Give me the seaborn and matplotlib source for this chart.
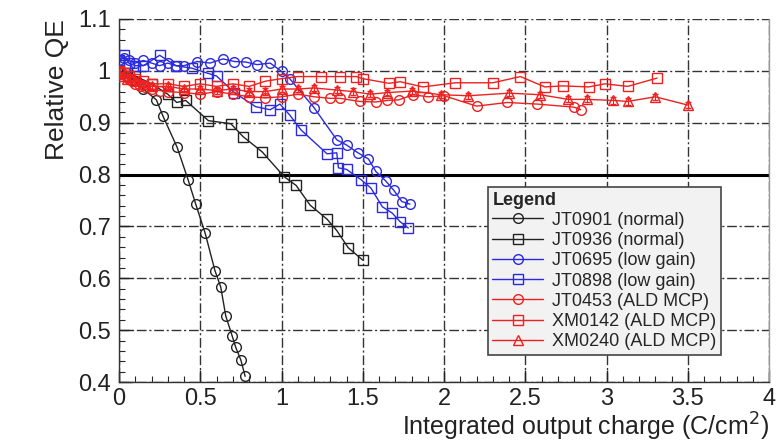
import pandas as pd
import matplotlib
matplotlib.use("Agg")
import matplotlib.pyplot as plt
import seaborn as sns
from matplotlib.ticker import MultipleLocator, FormatStrFormatter

# --- data ---
jt0901_x = [0, 0.05, 0.1, 0.15, 0.23, 0.27, 0.357, 0.425, 0.472, 0.53, 0.59, 0.626, 0.657, 0.696, 0.718, 0.75, 0.776]
jt0901_y = [1.0, 0.99, 0.98, 0.965, 0.944, 0.913, 0.853, 0.79, 0.743, 0.687, 0.615, 0.583, 0.527, 0.489, 0.467, 0.442, 0.411]

jt0936_x = [0, 0.05, 0.1, 0.2, 0.3, 0.355, 0.41, 0.55, 0.688, 0.764, 0.88, 1.016, 1.09, 1.176, 1.28, 1.34, 1.41, 1.50]
jt0936_y = [1.0, 0.995, 0.99, 0.975, 0.955, 0.939, 0.943, 0.904, 0.898, 0.873, 0.844, 0.796, 0.779, 0.741, 0.714, 0.692, 0.659, 0.635]

jt0695_x = [0, 0.03, 0.06, 0.1, 0.15, 0.2, 0.25, 0.3, 0.35, 0.4, 0.48, 0.56, 0.64, 0.71, 0.78, 0.85, 0.93,
            1.0, 1.05, 1.2, 1.34, 1.40, 1.47, 1.535, 1.58, 1.64, 1.69, 1.74, 1.79]
jt0695_y = [1.02, 1.025, 1.02, 1.015, 1.02, 1.015, 1.01, 1.015, 1.01, 1.01, 1.018, 1.015, 1.023, 1.018, 1.017, 1.012, 1.015,
            0.999, 0.985, 0.929, 0.867, 0.857, 0.842, 0.83, 0.806, 0.788, 0.77, 0.748, 0.743]

jt0898_x = [0, 0.03, 0.06, 0.1, 0.15, 0.25, 0.35, 0.45, 0.55, 0.6, 0.71, 0.84, 0.93, 0.99, 1.05, 1.12,
            1.28, 1.34, 1.35, 1.40, 1.49, 1.55, 1.62, 1.68, 1.73, 1.78]
jt0898_y = [1.02, 1.03, 1.015, 1.01, 1.01, 1.03, 1.01, 1.005, 0.995, 0.99, 0.958, 0.931, 0.925, 0.936, 0.915, 0.886,
            0.84, 0.842, 0.813, 0.81, 0.79, 0.774, 0.738, 0.726, 0.709, 0.697]

jt0453_x = [0, 0.02, 0.04, 0.06, 0.08, 0.1, 0.13, 0.16, 0.2, 0.25, 0.3, 0.4, 0.5, 0.6, 0.7, 0.8, 0.9, 1.0,
            1.1, 1.2, 1.3, 1.36, 1.48, 1.58, 1.65, 1.72, 1.81, 1.9, 2.0, 2.2, 2.39, 2.57, 2.8, 2.84]
jt0453_y = [1.0, 0.995, 0.99, 0.985, 0.98, 0.975, 0.97, 0.968, 0.965, 0.962, 0.96, 0.958, 0.955, 0.96, 0.955, 0.95, 0.948, 0.95,
            0.955, 0.95, 0.947, 0.947, 0.941, 0.94, 0.943, 0.944, 0.954, 0.95, 0.952, 0.932, 0.939, 0.936, 0.93, 0.925]

xm0142_x = [0, 0.03, 0.06, 0.1, 0.15, 0.2, 0.3, 0.4, 0.5, 0.6, 0.7, 0.8, 0.9, 1.0, 1.1, 1.24, 1.36, 1.46, 1.5,
            1.66, 1.73, 1.87, 2.07, 2.3, 2.47, 2.62, 2.73, 2.89, 2.99, 3.13, 3.31]
xm0142_y = [1.0, 0.995, 0.99, 0.985, 0.98, 0.975, 0.975, 0.97, 0.975, 0.97, 0.975, 0.97, 0.98, 0.985, 0.989, 0.989, 0.989, 0.989, 0.985,
            0.976, 0.979, 0.969, 0.977, 0.977, 0.989, 0.969, 0.971, 0.969, 0.975, 0.97, 0.986]

xm0240_x = [0, 0.05, 0.1, 0.15, 0.2, 0.3, 0.4, 0.5, 0.6, 0.7, 0.8, 0.9, 1.0, 1.1, 1.2, 1.34, 1.44, 1.545, 1.65,
            1.8, 1.98, 2.15, 2.4, 2.59, 2.765, 2.88, 3.04, 3.13, 3.30, 3.50]
xm0240_y = [0.99, 0.985, 0.98, 0.975, 0.97, 0.97, 0.965, 0.965, 0.962, 0.965, 0.96, 0.96, 0.965, 0.965, 0.967, 0.963, 0.96, 0.955, 0.958,
            0.961, 0.954, 0.952, 0.957, 0.954, 0.945, 0.945, 0.943, 0.941, 0.95, 0.934]

labels = ["JT0901 (normal)", "JT0936 (normal)", "JT0695 (low gain)", "JT0898 (low gain)",
          "JT0453 (ALD MCP)", "XM0142 (ALD MCP)", "XM0240 (ALD MCP)"]
series_x = [jt0901_x, jt0936_x, jt0695_x, jt0898_x, jt0453_x, xm0142_x, xm0240_x]
series_y = [jt0901_y, jt0936_y, jt0695_y, jt0898_y, jt0453_y, xm0142_y, xm0240_y]

BLACK = "#222222"
BLUE = "#2a2ae0"
RED = "#ee2020"
colors = [BLACK, BLACK, BLUE, BLUE, RED, RED, RED]
markers = ["o", "s", "o", "s", "o", "s", "^"]

sns.set_style("white")
plt.rcParams["font.family"] = ["Liberation Sans", "DejaVu Sans"]

fig = plt.figure(figsize=(7.8, 4.48), dpi=100)
ax = fig.add_axes([0.1526, 0.1473, 0.8334, 0.8103])

for lab, xs, ys, c, m in zip(labels, series_x, series_y, colors, markers):
    df = pd.DataFrame({"x": xs, "y": ys})
    sns.lineplot(data=df, x="x", y="y", ax=ax, estimator=None, sort=False,
                 color=c, lw=1.0, marker=m, markersize=7, markerfacecolor="none",
                 markeredgecolor=c, markeredgewidth=1.0, label=lab, zorder=3)

# small error bars on the ALD MCP triangle series
ax.errorbar(xm0240_x, xm0240_y, yerr=0.006, fmt="none", ecolor=RED, elinewidth=0.8, capsize=2, zorder=3)

ax.set_xlim(0, 4)
ax.set_ylim(0.4, 1.1)
ax.xaxis.set_major_locator(MultipleLocator(0.5))
ax.xaxis.set_minor_locator(MultipleLocator(0.1))
ax.yaxis.set_major_locator(MultipleLocator(0.1))
ax.yaxis.set_minor_locator(MultipleLocator(0.02))
ax.xaxis.set_major_formatter(FormatStrFormatter("%g"))
ax.yaxis.set_major_formatter(FormatStrFormatter("%g"))
ax.tick_params(axis="both", which="major", direction="in", length=9, width=1, labelsize=17,
               colors="#222222", left=True, bottom=True, pad=6)
ax.tick_params(axis="x", which="major", pad=4)
ax.tick_params(axis="both", which="minor", direction="in", length=4, width=0.8, left=True, bottom=True)

ax.grid(True, which="major", color="#333333", lw=1.0, linestyle=(0, (7, 2, 1.5, 2)))
ax.axhline(0.8, color="black", lw=2.2, zorder=2)

for s in ax.spines.values():
    s.set_color("#333333")
    s.set_linewidth(1.0)
ax.spines["top"].set_visible(False)
ax.spines["right"].set_color("#999999")

ax.set_xlabel("Integrated output charge (C/cm$^2$)", fontsize=18, color="#222222", loc="right", labelpad=1)
ax.set_ylabel("Relative QE", fontsize=19, color="#222222", loc="top", labelpad=6)

leg = ax.legend(title="Legend", loc="upper left", bbox_to_anchor=(0.6256, 0.5826),
                bbox_transform=fig.transFigure, borderaxespad=0, fontsize=13,
                title_fontproperties={"weight": "bold", "size": 13}, alignment="left",
                handlelength=2.8, labelspacing=0.18, fancybox=False, framealpha=1,
                edgecolor="#444444", facecolor="#f2f2f2", borderpad=0.25, handletextpad=0.5)
leg.get_frame().set_linewidth(1.2)

fig.savefig("out.png", dpi=100)
